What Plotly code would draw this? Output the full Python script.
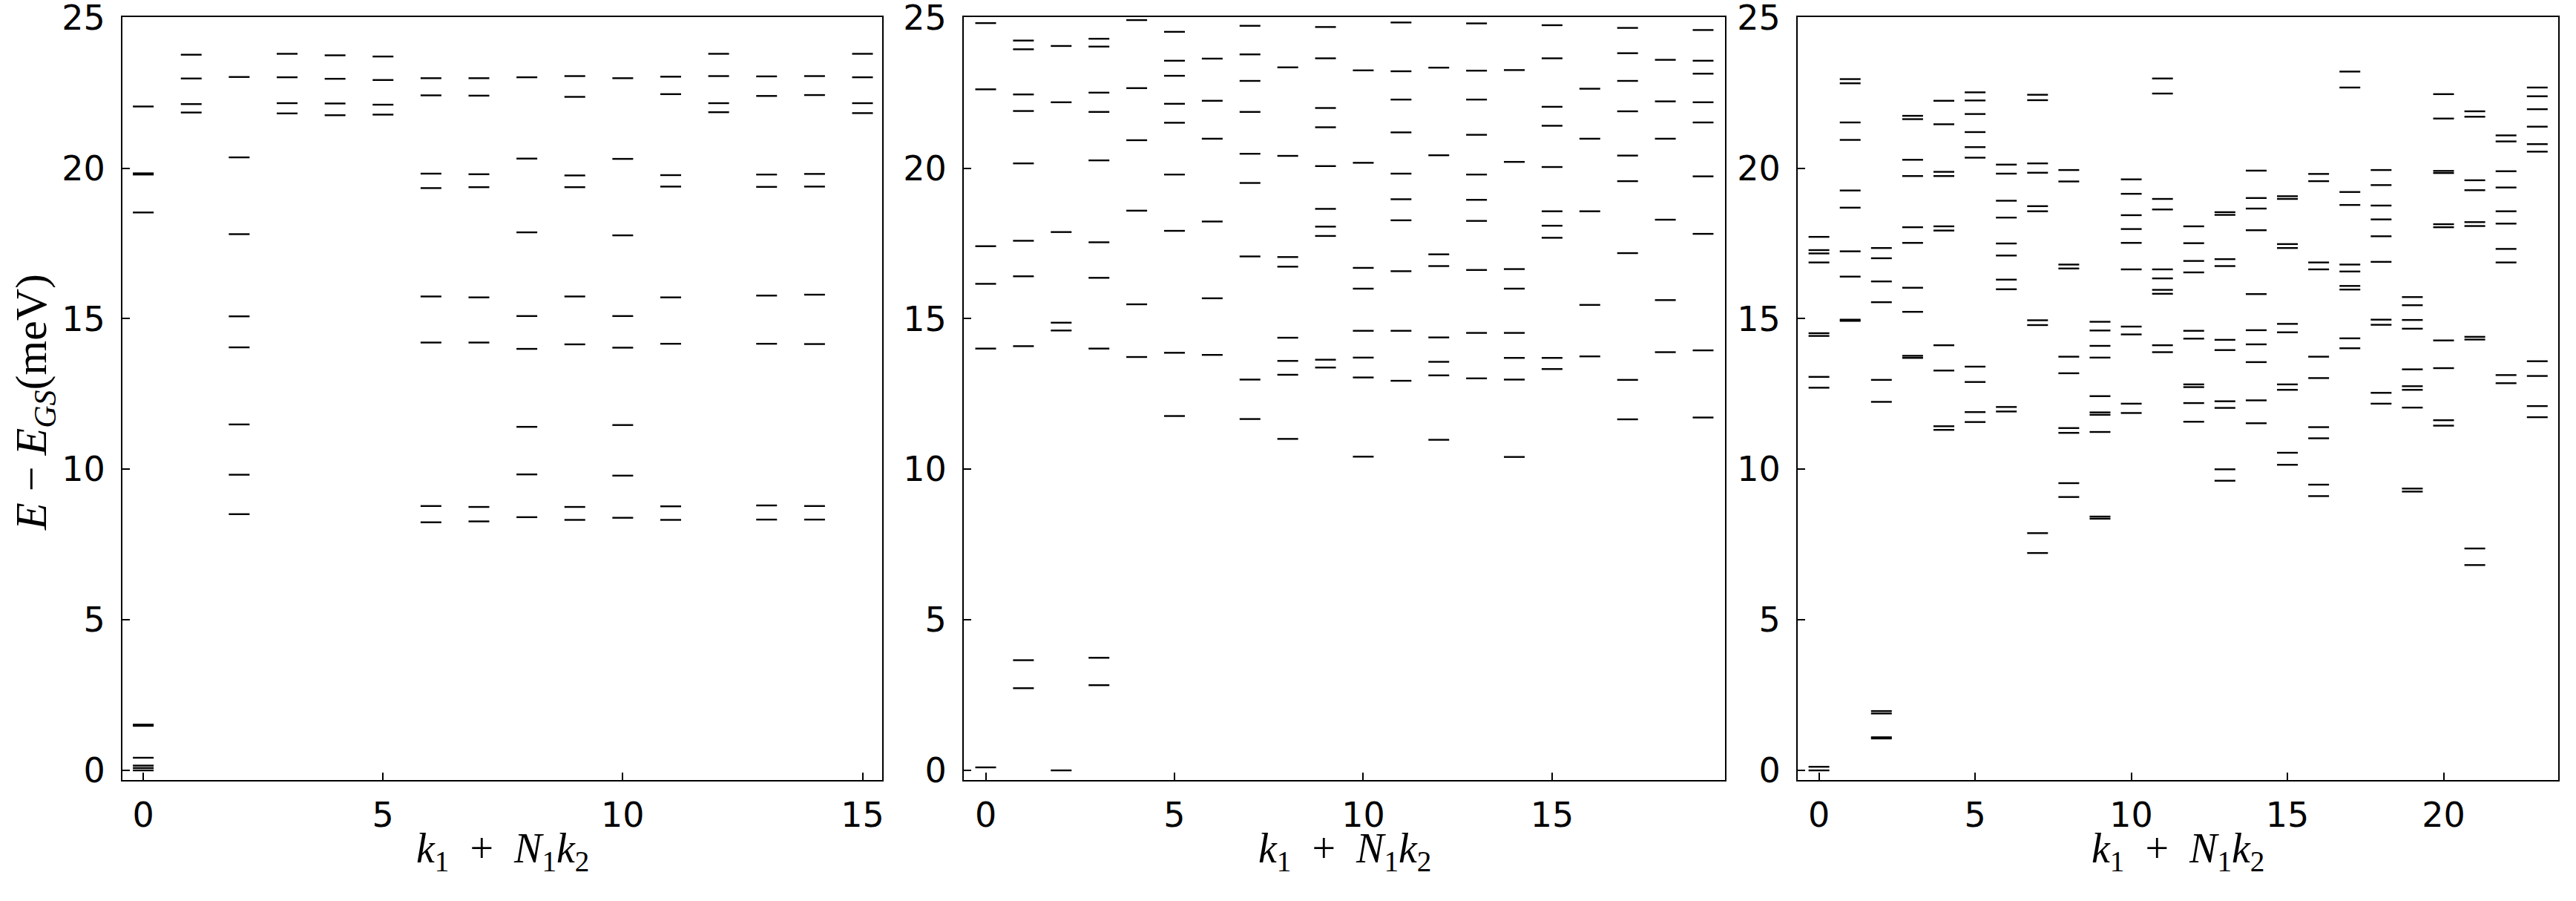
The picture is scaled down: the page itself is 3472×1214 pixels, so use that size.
import plotly.graph_objects as go

# ---------------- data: energy levels (meV) per momentum index k ----------------
panel1_levels = [
    [0.0, 0.08, 0.16, 0.42, 1.48, 1.52, 18.53, 19.79, 19.83, 22.05],
    [21.85, 22.13, 22.98, 23.77],
    [8.51, 9.82, 11.49, 14.05, 15.08, 17.81, 20.36, 23.03],
    [21.82, 22.16, 23.02, 23.80],
    [21.76, 22.15, 22.97, 23.75],
    [21.78, 22.11, 22.93, 23.71],
    [8.24, 8.78, 14.21, 15.74, 19.34, 19.82, 22.42, 22.99],
    [8.27, 8.75, 14.21, 15.71, 19.37, 19.80, 22.41, 22.99],
    [8.41, 9.83, 11.41, 14.00, 15.09, 17.87, 20.32, 23.02],
    [8.32, 8.75, 14.15, 15.74, 19.37, 19.76, 22.37, 23.06],
    [8.39, 9.79, 11.47, 14.04, 15.09, 17.77, 20.31, 22.99],
    [8.32, 8.77, 14.17, 15.71, 19.39, 19.77, 22.46, 23.04],
    [21.86, 22.16, 23.06, 23.80],
    [8.33, 8.80, 14.17, 15.77, 19.38, 19.79, 22.40, 23.05],
    [8.33, 8.78, 14.16, 15.80, 19.39, 19.81, 22.43, 23.06],
    [21.83, 22.16, 23.02, 23.80],
]

panel2_levels = [
    [0.10, 14.01, 16.16, 17.41, 22.62, 24.82],
    [2.73, 3.66, 14.09, 16.41, 17.59, 20.16, 21.90, 22.45, 23.95, 24.24],
    [0.0, 14.61, 14.87, 17.88, 22.19, 24.06],
    [2.83, 3.74, 14.01, 16.36, 17.54, 20.26, 21.87, 22.51, 24.04, 24.30],
    [13.73, 15.48, 18.59, 20.93, 22.66, 24.92],
    [11.77, 13.87, 17.92, 19.79, 21.51, 22.14, 23.07, 23.57, 24.53],
    [13.80, 15.68, 18.23, 20.98, 22.24, 23.64],
    [11.67, 12.98, 17.07, 19.51, 20.48, 21.87, 22.90, 23.78, 24.73],
    [11.01, 13.14, 13.60, 14.37, 16.73, 17.05, 20.41, 23.35],
    [13.38, 13.64, 17.75, 18.06, 18.65, 20.07, 21.36, 22.00, 23.65, 24.69],
    [10.42, 13.05, 13.71, 14.60, 16.00, 16.69, 20.18, 23.25],
    [12.94, 14.60, 16.58, 18.27, 18.97, 19.82, 21.19, 22.28, 23.22, 24.84],
    [10.98, 13.12, 13.57, 14.38, 16.75, 17.14, 20.43, 23.34],
    [13.02, 14.53, 16.62, 18.25, 18.95, 19.79, 21.11, 22.28, 23.24, 24.81],
    [10.41, 12.98, 13.70, 14.53, 16.00, 16.65, 20.21, 23.26],
    [13.33, 13.70, 17.69, 18.09, 18.57, 20.04, 21.41, 22.04, 23.65, 24.75],
    [13.75, 15.46, 18.57, 20.98, 22.64],
    [11.66, 12.97, 17.18, 19.57, 20.42, 21.89, 22.90, 23.82, 24.66],
    [13.89, 15.62, 18.29, 20.98, 22.22, 23.60],
    [11.72, 13.95, 17.82, 19.73, 21.52, 22.19, 23.14, 23.57, 24.59],
]

panel3_levels = [
    [0.0, 0.12, 12.71, 13.07, 14.43, 14.52, 16.87, 17.17, 17.28, 17.72],
    [14.93, 14.97, 16.40, 17.24, 18.69, 19.26, 20.94, 21.52, 22.82, 22.96],
    [1.06, 1.10, 1.89, 1.97, 12.24, 12.97, 15.55, 16.24, 17.01, 17.35],
    [13.70, 13.77, 15.23, 16.03, 17.52, 18.04, 19.74, 20.28, 21.63, 21.74],
    [11.31, 11.43, 13.28, 14.12, 17.93, 18.07, 19.74, 19.88, 21.46, 22.24],
    [11.57, 11.90, 12.90, 13.41, 20.35, 20.70, 21.20, 21.80, 22.25, 22.52],
    [11.92, 12.07, 15.98, 16.30, 17.10, 17.50, 18.36, 18.92, 19.82, 20.12],
    [7.22, 7.88, 14.79, 14.95, 18.57, 18.74, 19.85, 20.16, 22.26, 22.44],
    [9.08, 9.54, 11.21, 11.37, 13.19, 13.74, 16.67, 16.80, 19.56, 19.94],
    [8.36, 8.43, 11.24, 11.81, 11.89, 12.43, 13.71, 14.10, 14.61, 14.90],
    [11.87, 12.18, 14.48, 14.74, 16.64, 17.52, 17.98, 18.44, 19.15, 19.63],
    [13.89, 14.12, 15.83, 15.96, 16.34, 16.64, 18.63, 18.98, 22.48, 22.98],
    [11.58, 12.20, 12.73, 12.82, 14.34, 14.60, 16.54, 16.92, 17.51, 18.07],
    [9.62, 10.00, 12.04, 12.26, 13.96, 14.30, 16.75, 16.98, 18.45, 18.54],
    [11.53, 12.29, 13.56, 14.15, 14.62, 15.82, 17.94, 18.66, 19.01, 19.92],
    [10.15, 10.55, 12.64, 12.82, 14.55, 14.83, 17.35, 17.48, 18.98, 19.07],
    [9.11, 9.49, 11.03, 11.40, 13.03, 13.74, 16.64, 16.87, 19.57, 19.81],
    [14.02, 14.35, 15.97, 16.09, 16.57, 16.80, 18.78, 19.21, 22.68, 23.21],
    [12.18, 12.54, 14.80, 14.97, 16.89, 17.74, 18.30, 18.76, 19.44, 19.94],
    [9.26, 9.36, 12.05, 12.64, 12.76, 13.32, 14.67, 14.96, 15.45, 15.72],
    [11.45, 11.63, 13.36, 14.28, 18.04, 18.14, 19.84, 19.91, 21.65, 22.46],
    [6.82, 7.37, 14.31, 14.40, 18.08, 18.21, 19.27, 19.60, 21.71, 21.89],
    [12.86, 13.13, 16.87, 17.32, 18.16, 18.57, 19.36, 19.90, 20.89, 21.09],
    [11.73, 12.10, 13.10, 13.59, 20.55, 20.80, 21.38, 21.96, 22.39, 22.68],
]

y_ticks = [0, 5, 10, 15, 20, 25]
x_ticks_12 = [0, 5, 10, 15]
x_ticks_3 = [0, 5, 10, 15, 20]
x_title = "<i>k</i><sub>1</sub>\u2002+\u2002<i>N</i><sub>1</sub><i>k</i><sub>2</sub>"
y_title = "<i>E</i> \u2212 <i>E</i><sub><i>GS</i></sub>(meV)"

# ---------------- figure ----------------
W, H = 3472, 1214
panels = [
    (panel1_levels, (165, 1189), (-0.435, 15.41), x_ticks_12),
    (panel2_levels, (1299, 2325), (-0.58, 19.58), x_ticks_12),
    (panel3_levels, (2423, 3448), (-0.68, 23.67), x_ticks_3),
]
y_top_px, y_bot_px = 23, 1051

fig = go.Figure()
layout = dict(
    template="none",
    width=W, height=H,
    margin=dict(l=0, r=0, t=0, b=0, pad=0),
    paper_bgcolor="white", plot_bgcolor="white",
    showlegend=False,
    font=dict(family="DejaVu Sans", size=46, color="black"),
    annotations=[],
)

for i, (levels, (px0, px1), xr, xt) in enumerate(panels):
    n = i + 1
    xs, ys = [], []
    for k, lv in enumerate(levels):
        for e in lv:
            xs.append(k)
            ys.append(e)
    fig.add_trace(go.Scatter(
        x=xs, y=ys, mode="markers",
        xaxis="x" if n == 1 else f"x{n}",
        yaxis="y" if n == 1 else f"y{n}",
        marker=dict(symbol="line-ew", size=20, color="black",
                    line=dict(width=2.4, color="black")),
        hoverinfo="x+y",
    ))
    axis_common = dict(
        showline=True, linecolor="black", linewidth=2, mirror=True,
        ticks="inside", ticklen=10, tickwidth=2, tickcolor="black",
        showgrid=False, zeroline=False, automargin=False,
        tickfont=dict(family="DejaVu Sans", size=46, color="black"),
        ticklabeloverflow="allow",
    )
    xname = "xaxis" if n == 1 else f"xaxis{n}"
    yname = "yaxis" if n == 1 else f"yaxis{n}"
    layout[xname] = dict(
        axis_common,
        domain=[px0 / W, px1 / W],
        range=list(xr),
        tickmode="array", tickvals=xt, ticktext=[str(v) for v in xt],
        ticklabelstandoff=6,
        anchor="y" if n == 1 else f"y{n}",
    )
    layout[yname] = dict(
        axis_common,
        domain=[1 - y_bot_px / H, 1 - y_top_px / H],
        range=[-0.32, 25.02],
        tickmode="array", tickvals=y_ticks, ticktext=[str(v) for v in y_ticks],
        ticklabelstandoff=12,
        anchor="x" if n == 1 else f"x{n}",
    )
    layout["annotations"].append(dict(
        text=x_title, xref="paper", yref="paper",
        x=(px0 + px1) / 2 / W, y=1 - 1110 / H,
        xanchor="center", yanchor="top", showarrow=False,
        font=dict(family="Liberation Serif", size=56, color="black"),
    ))

layout["annotations"].append(dict(
    text=y_title, xref="paper", yref="paper",
    x=46 / W, y=1 - 542 / H, textangle=-90,
    xanchor="center", yanchor="middle", showarrow=False,
    font=dict(family="Liberation Serif", size=60, color="black"),
))

fig.update_layout(**layout)
fig.write_html(
    "out.html",
    config={"displayModeBar": False},
    post_script="document.body.style.margin='0';document.body.style.padding='0';",
)
